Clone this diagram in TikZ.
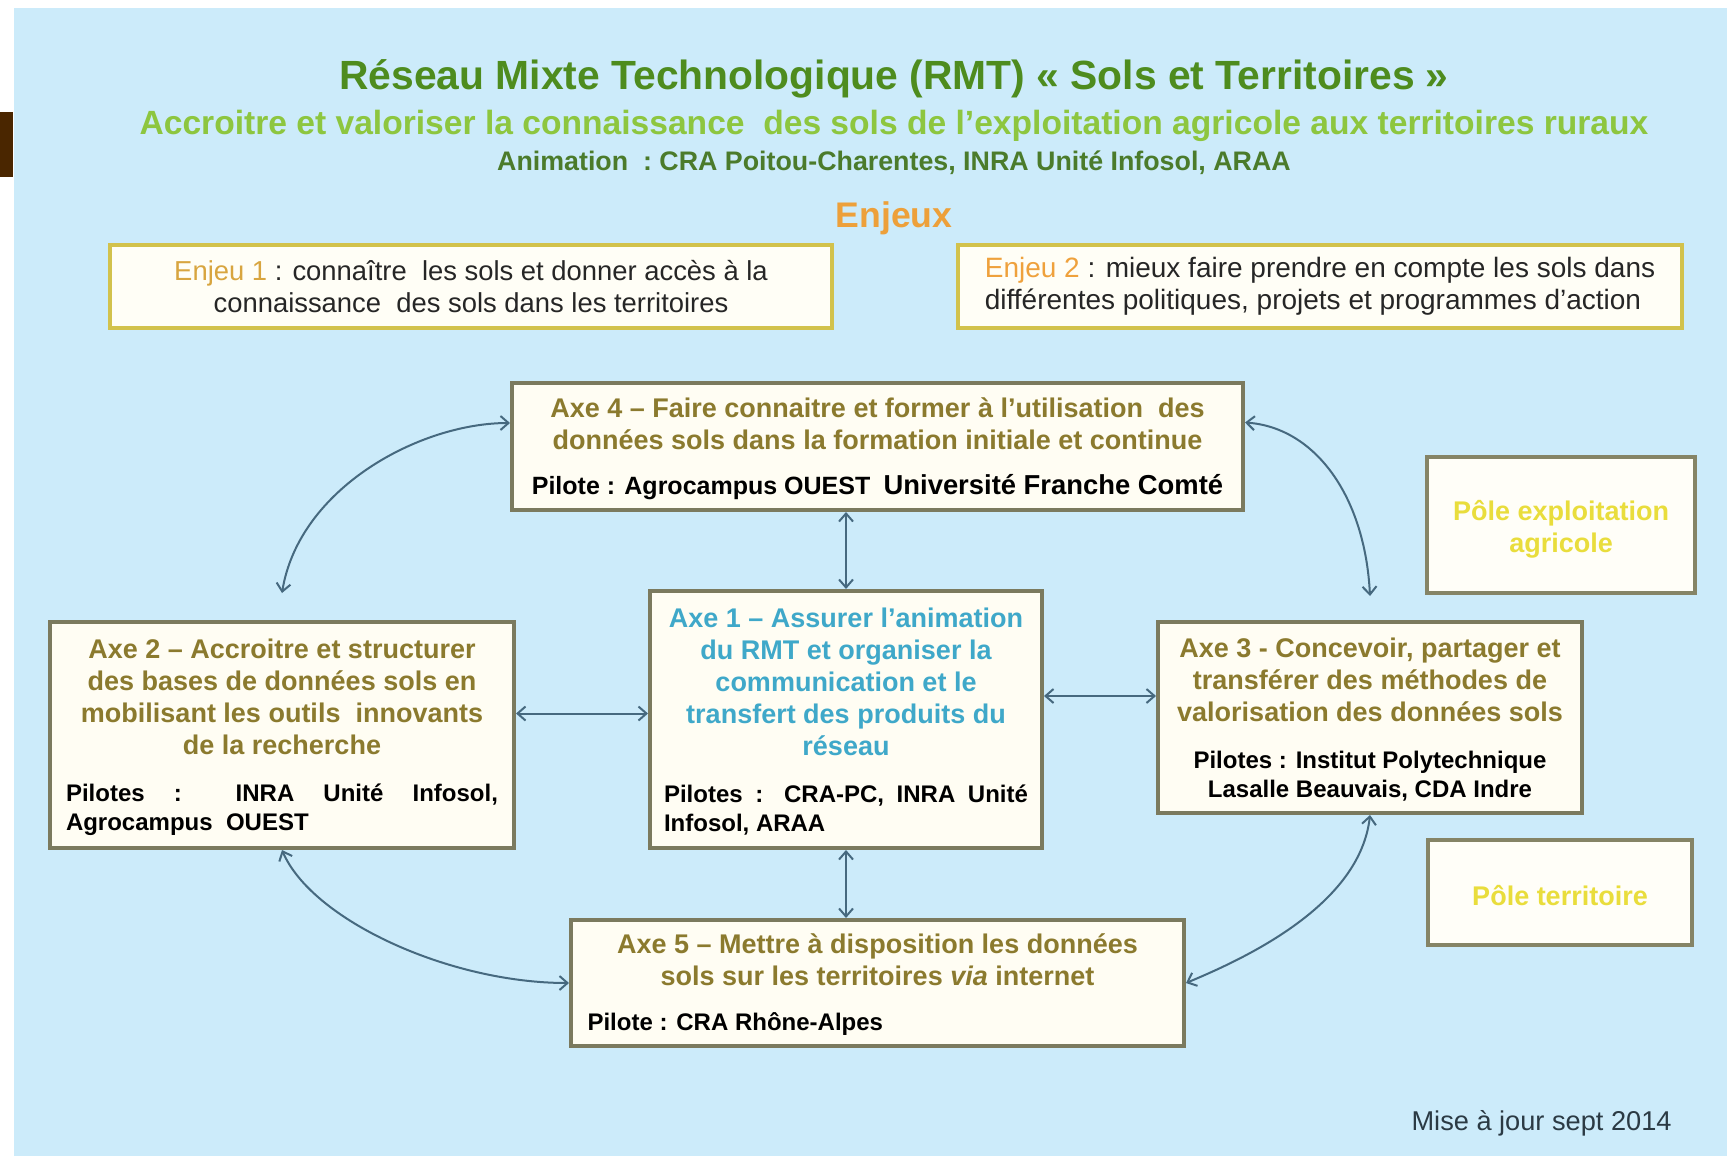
\documentclass[tikz,border=0pt]{standalone}
\usepackage{fontspec}
\setmainfont{Liberation Sans}
\usetikzlibrary{arrows.meta,calc}
\definecolor{bg}{HTML}{CCEBFA}
\definecolor{brownbar}{HTML}{4A2600}
\definecolor{ttl}{HTML}{4E8C1E}
\definecolor{sub}{HTML}{8DC63F}
\definecolor{anim}{HTML}{4B7B2B}
\definecolor{enjeux}{HTML}{EDA03A}
\definecolor{enjA}{HTML}{D8A53F}
\definecolor{enjB}{HTML}{EFA13C}
\definecolor{enjline}{HTML}{D2C24C}
\definecolor{enjfill}{HTML}{FFFEF6}
\definecolor{enjtext}{HTML}{262626}
\definecolor{axeline}{HTML}{7B7A5E}
\definecolor{axefill}{HTML}{FFFDF3}
\definecolor{axetitle}{HTML}{8B7A2E}
\definecolor{axeone}{HTML}{3FA8C9}
\definecolor{poleline}{HTML}{858466}
\definecolor{polefill}{HTML}{FFFEF8}
\definecolor{poletext}{HTML}{E9DD3C}
\definecolor{arrcol}{HTML}{46697F}
\definecolor{upd}{HTML}{2B3A44}
\newcommand\axet{\bfseries\fontsize{13.5}{16}\selectfont}
\newcommand\pilf{\bfseries\fontsize{12}{14.5}\selectfont\color{black}}
\newcommand\justif{\leftskip=0pt\rightskip=0pt\parfillskip=0pt plus 1fil\relax}
\tikzset{
  axebox/.style={draw=axeline, line width=2pt, fill=axefill, inner sep=0pt, text=axetitle},
  enjbox/.style={draw=enjline, line width=2pt, fill=enjfill, inner sep=0pt, text=enjtext},
  polebox/.style={draw=poleline, line width=2pt, fill=polefill, inner sep=0pt, text=poletext,
    font=\bfseries\fontsize{13.5}{16}\selectfont},
  conn/.style={draw=arrcol, line width=1pt, {Straight Barb[length=4pt,width=7pt]}-{Straight Barb[length=4pt,width=7pt]}},
}
\begin{document}
\begin{tikzpicture}[x=0.5pt,y=-0.5pt]
\useasboundingbox (0,0) rectangle (1727,1156);
\fill[white] (0,0) rectangle (1727,1156);
\fill[bg] (14,8) rectangle (1727,1156);
\fill[brownbar] (0,112) rectangle (13,177);

% titles
\node[font=\bfseries\fontsize{20.4}{24}\selectfont, text=ttl] (title) at (894,79)
  {Réseau Mixte Technologique (RMT) « Sols et Territoires »};
\node[font=\bfseries\fontsize{16.8}{20}\selectfont, text=sub] (subtitle) at (894,126)
  {Accroitre et valoriser la connaissance\ \ des sols de l'exploitation agricole aux territoires ruraux};
\node[font=\bfseries\fontsize{13.4}{16}\selectfont, text=anim] (anim) at (894,163)
  {Animation\ \ :\ CRA Poitou-Charentes, INRA Unité Infosol, ARAA};
\node[font=\bfseries\fontsize{17.8}{20}\selectfont, text=enjeux] (enjeux) at (894,218) {Enjeux};

% enjeux boxes
\node[enjbox, minimum width=361pt, minimum height=41.5pt, align=center,
  font=\fontsize{13.7}{16}\selectfont] (enj1) at (471,286.5)
  {{\color{enjA}Enjeu 1} : connaître\ \ les sols et donner accès à la\\connaissance\ \ des sols dans les territoires};
\node[enjbox, minimum width=362pt, minimum height=41.5pt, align=left,
  font=\fontsize{14}{16}\selectfont] (enj2) at (1320,286.5)
  {{\color{enjB}Enjeu 2} : mieux faire prendre en compte les sols dans\\différentes politiques, projets et programmes d'action};

% axes
\node[axebox, minimum width=365.5pt, minimum height=63.5pt] (ax4) at (877.5,446.5)
  {\parbox{355pt}{\vspace*{2pt}\centering\axet Axe 4 – Faire connaitre et former à l'utilisation\ \ des\\
   données sols dans la formation initiale et continue\par\vspace{8pt}
   \pilf{\fontsize{12.5}{14.5}\selectfont Pilote : Agrocampus OUEST}\ \ {\fontsize{13.7}{16}\selectfont Université Franche Comté}\par}};

\node[axebox, text=axeone, minimum width=196pt, minimum height=128.5pt] (ax1) at (846,719.5)
  {\parbox{182pt}{\vspace*{2pt}\centering\axet Axe 1 – Assurer l'animation\\ du RMT et organiser la\\
   communication et le\\ transfert des produits du\\ réseau\par\vspace{9pt}
   \pilf\justif Pilotes : CRA-PC, INRA Unité\linebreak Infosol, ARAA\par}};

\node[axebox, minimum width=232pt, minimum height=113pt] (ax2) at (282,735)
  {\parbox{216pt}{\vspace*{2pt}\centering\axet Axe 2 – Accroitre et structurer\\ des bases de données sols en\\
   mobilisant les outils\ \ innovants\\ de la recherche\par\vspace{9pt}
   \pilf\justif Pilotes : INRA Unité Infosol,\linebreak Agrocampus\ \ OUEST\par}};

\node[axebox, minimum width=212pt, minimum height=95.5pt] (ax3) at (1370,717.5)
  {\parbox{204pt}{\vspace*{2pt}\centering\axet Axe 3 - Concevoir, partager et\\ transférer des méthodes de\\
   valorisation des données sols\par\vspace{9pt}
   \pilf Pilotes : Institut Polytechnique\\ Lasalle Beauvais, CDA Indre\par}};

\node[axebox, minimum width=306.5pt, minimum height=63pt] (ax5) at (877.5,983)
  {\parbox{290pt}{\vspace*{2pt}\centering\axet Axe 5 – Mettre à disposition les données\\
   sols sur les territoires \textit{via} internet\par\vspace{8pt}
   \pilf\raggedright Pilote : CRA Rhône-Alpes\par}};

% poles
\node[polebox, minimum width=134pt, minimum height=68pt] (pole1) at (1561,525)
  {\parbox{130pt}{\vspace*{4pt}\centering Pôle exploitation\\agricole\par}};
\node[polebox, minimum width=132pt, minimum height=52.5pt] (pole2) at (1560,892.5)
  {\parbox{128pt}{\vspace*{3pt}\centering Pôle territoire\par}};

\node[anchor=east, inner sep=0pt, font=\fontsize{13.6}{16}\selectfont, text=upd] (maj) at (1672,1123)
  {Mise à jour sept 2014};

% connectors
\draw[conn] (ax1.north |- ax4.south) -- (ax1.north);
\draw[conn] (ax1.south) -- (ax1.south |- ax5.north);
\coordinate (p21) at ([yshift=3pt]ax1.west);
\draw[conn] (ax2.east |- p21) -- (p21);
\coordinate (p13) at ([yshift=11.75pt]ax1.east);
\draw[conn] (p13) -- (ax3.west |- p13);
\coordinate (c4l) at ([yshift=11.75pt]ax4.west);
\coordinate (c2t) at ([yshift=13.5pt]ax2.north);
\draw[conn] (c4l) .. controls +(-90,0) and +(17,-105) .. (c2t);
\coordinate (c4r) at ([yshift=12pt]ax4.east);
\coordinate (c3t) at ([yshift=12pt]ax3.north);
\draw[conn] (c4r) .. controls +(70,5) and +(-5,-100) .. (c3t);
\draw[conn] (ax2.south) .. controls +(30,70) and +(-120,0) .. (ax5.west);
\draw[conn] (ax3.south) .. controls +(-10,90) and +(60,-25) .. (ax5.east);
\end{tikzpicture}
\end{document}
